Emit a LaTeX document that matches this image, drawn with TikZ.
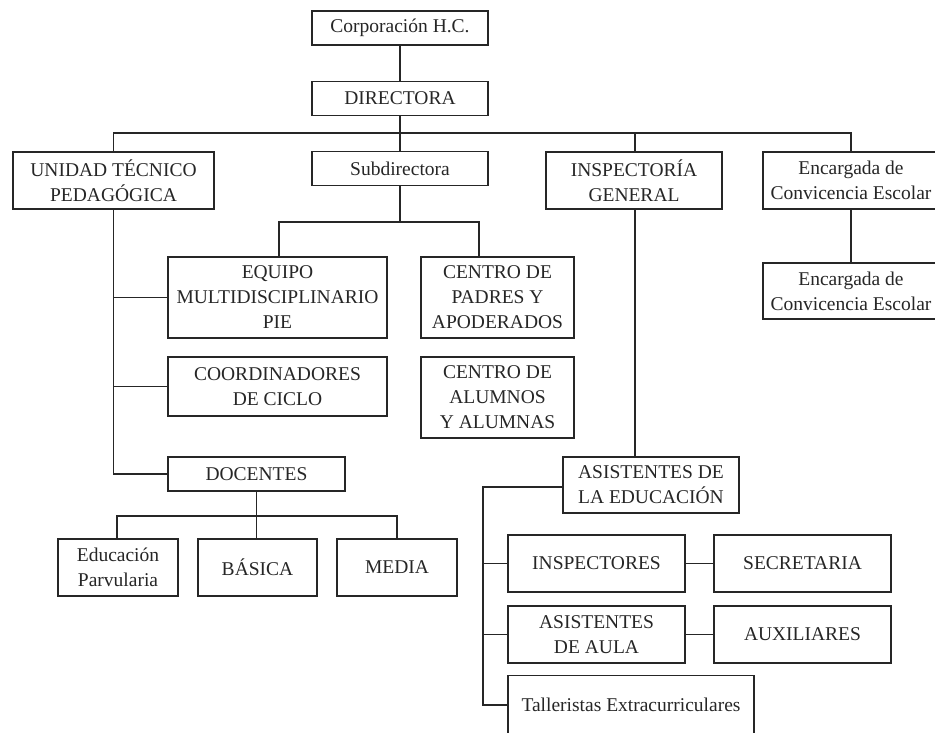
\documentclass[tikz,border=0pt]{standalone}
\usepackage{fontspec}
\setmainfont{Liberation Serif}
\usepackage{tikz}

\tikzset{
  unit/.style={draw=black!85, line width=1.2pt, align=center, inner sep=0pt,
    minimum width=176pt, minimum height=34pt, text=black!85,
    font=\fontsize{19.5}{25}\selectfont},
  tall/.style={minimum height=57pt},
  link/.style={draw=black!85, line width=1.2pt},
}

\begin{document}
\begin{tikzpicture}[x=1pt,y=-1pt]
    \useasboundingbox (0,0) rectangle (935,732);
    \node[unit] (corp) at (400,28) {Corporación H.C.};
    \node[unit,below of=corp,node distance=70.5pt] (dir) {DIRECTORA};
    \node[unit,below of=dir,node distance=70pt] (sub) {Subdirectora};
    \node[unit,tall,minimum width=201pt,left of=sub,node distance=286.5pt,yshift=-12pt] (utp) {UNIDAD TÉCNICO\\PEDAGÓGICA};
    \node[unit,tall,right of=sub,node distance=234pt,yshift=-12pt] (insp) {INSPECTORÍA\\GENERAL};
    \node[unit,tall,right of=insp,node distance=217pt] (enc1) {Encargada de\\Convicencia Escolar};
    \node[unit,minimum height=56pt,below of=enc1,node distance=110.5pt] (enc2) {Encargada de\\Convicencia Escolar};
    %% Subdirectora branch
    \node[unit,minimum width=219pt,minimum height=81pt,below of=sub,node distance=129pt,xshift=-122.5pt] (equipo) {EQUIPO\\MULTIDISCIPLINARIO\\PIE};
    \node[unit,minimum width=153pt,minimum height=81pt,right of=equipo,node distance=220pt] (padres) {CENTRO DE\\PADRES Y\\APODERADOS};
    \node[unit,minimum width=219pt,minimum height=59pt,below of=equipo,node distance=89pt] (coord) {COORDINADORES\\DE CICLO};
    \node[unit,minimum width=153pt,minimum height=81pt,below of=padres,node distance=100pt] (alumnos) {CENTRO DE\\ALUMNOS\\Y ALUMNAS};
    %% Docentes
    \node[unit,minimum width=177pt,below of=coord,node distance=87.5pt,xshift=-21pt] (doc) {DOCENTES};
    \node[unit,tall,minimum width=119pt,below of=doc,node distance=93.5pt,xshift=1pt] (basica) {BÁSICA};
    \node[unit,tall,minimum width=120pt,left of=basica,node distance=139.5pt] (educ) {Educación\\Parvularia};
    \node[unit,tall,minimum width=120pt,right of=basica,node distance=139.5pt] (media) {MEDIA};
    %% Asistentes
    \node[unit,minimum height=56pt,below of=insp,node distance=304.5pt,xshift=17pt] (asist) {ASISTENTES DE\\LA EDUCACIÓN};
    \node[unit,tall,minimum width=177pt,below of=asist,node distance=78.5pt,xshift=-54.5pt] (inspe) {INSPECTORES};
    \node[unit,tall,minimum width=177pt,right of=inspe,node distance=206pt] (secre) {SECRETARIA};
    \node[unit,tall,minimum width=177pt,below of=inspe,node distance=71pt] (aula) {ASISTENTES\\DE AULA};
    \node[unit,tall,minimum width=177pt,right of=aula,node distance=206pt] (aux) {AUXILIARES};
    \node[unit,minimum width=246pt,minimum height=59pt,below of=aula,node distance=70.5pt,xshift=34.5pt] (taller) {Talleristas Extracurriculares};
    %% Top lines
    \coordinate (bus) at (400,133);
    \draw[link] (corp) -- (dir);
    \draw[link] (dir) -- (sub);
    \draw[link] (utp.north) |- (bus) -| (enc1.north);
    \draw[link] ([xshift=1pt]insp.north) -- ([xshift=1pt]insp.north |- bus);
    \draw[link] (enc1) -- (enc2);
    %% Subdirectora lines
    \coordinate (sbus) at (400,222);
    \draw[link] (sub.south) -- (sbus);
    \draw[link] ([xshift=1.5pt]equipo.north) |- (sbus) -| ([xshift=-18.5pt]padres.north);
    %% UTP lines
    \draw[link] (utp.south) |- (doc.west);
    \draw[link] (utp.south |- equipo.west) -- (equipo.west);
    \draw[link] (utp.south |- coord.west) -- (coord.west);
    \draw[link] (doc.south) -- (doc.south |- basica.north);
    \coordinate (dbus) at (256.5,516);
    \draw[link] ([xshift=-1pt]educ.north) |- (dbus) -| (media.north);
    %% Inspectoria lines
    \draw[link] ([xshift=1pt]insp.south) -- ([xshift=1pt]insp.south |- asist.north);
    \coordinate (abus) at (483,487);
    \draw[link] (abus -| asist.west) -- (abus) |- (taller.west);
    \draw[link] (abus |- inspe.west) -- (inspe.west);
    \draw[link] (abus |- aula.west) -- (aula.west);
    \draw[link] (inspe) -- (secre);
    \draw[link] (aula) -- (aux);
\end{tikzpicture}
\end{document}
